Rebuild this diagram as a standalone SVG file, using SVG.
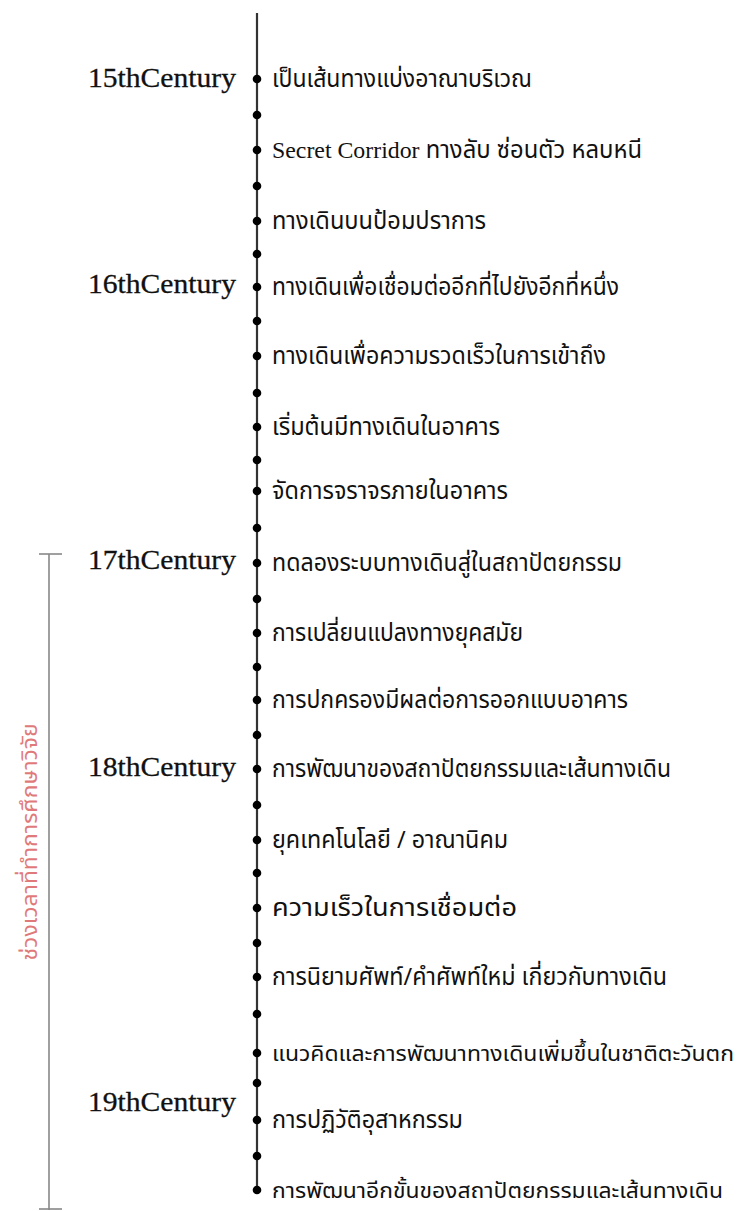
<svg xmlns="http://www.w3.org/2000/svg" width="739" height="1211" viewBox="0 0 739 1211">
<style>
.cent{font-family:"Liberation Serif","Times New Roman",serif;font-size:28px;fill:#111;stroke:#111;stroke-width:0.3;text-anchor:end}
.item{font-family:"Noto Sans Thai","Noto Sans Thai Looped","Loma","Garuda","Tlwg Typo","Noto Sans",sans-serif;font-size:24px;fill:#111}
.sm{font-size:22px}
.lat{font-family:"Liberation Serif","Times New Roman",serif}
.dot{fill:#000}
.axis{stroke:#333;stroke-width:2.2;fill:none}
.brk{stroke:#888;stroke-width:1.6;fill:none}
.red{font-family:"Noto Sans Thai","Loma","Garuda","Noto Sans",sans-serif;font-size:22px;fill:#e07a7a;text-anchor:middle}
</style>
<rect width="739" height="1211" fill="#fff"/>
<g id="connectors">
<line class="axis" x1="257" y1="13" x2="257" y2="1190"/>
<g id="bracket">
<line class="brk" x1="49" y1="554" x2="49" y2="1210"/>
<line class="brk" x1="39" y1="554" x2="62" y2="554"/>
<line class="brk" x1="39" y1="1209" x2="62" y2="1209"/>
</g>
</g>
<g id="dots">
<circle class="dot" cx="257" cy="79" r="4.3"/>
<circle class="dot" cx="257" cy="115" r="4.3"/>
<circle class="dot" cx="257" cy="150" r="4.3"/>
<circle class="dot" cx="257" cy="186" r="4.3"/>
<circle class="dot" cx="257" cy="221" r="4.3"/>
<circle class="dot" cx="257" cy="254" r="4.3"/>
<circle class="dot" cx="257" cy="287" r="4.3"/>
<circle class="dot" cx="257" cy="321" r="4.3"/>
<circle class="dot" cx="257" cy="356" r="4.3"/>
<circle class="dot" cx="257" cy="393" r="4.3"/>
<circle class="dot" cx="257" cy="427" r="4.3"/>
<circle class="dot" cx="257" cy="460" r="4.3"/>
<circle class="dot" cx="257" cy="491" r="4.3"/>
<circle class="dot" cx="257" cy="528" r="4.3"/>
<circle class="dot" cx="257" cy="563" r="4.3"/>
<circle class="dot" cx="257" cy="599" r="4.3"/>
<circle class="dot" cx="257" cy="633" r="4.3"/>
<circle class="dot" cx="257" cy="667" r="4.3"/>
<circle class="dot" cx="257" cy="700" r="4.3"/>
<circle class="dot" cx="257" cy="735" r="4.3"/>
<circle class="dot" cx="257" cy="769" r="4.3"/>
<circle class="dot" cx="257" cy="805" r="4.3"/>
<circle class="dot" cx="257" cy="840" r="4.3"/>
<circle class="dot" cx="257" cy="873" r="4.3"/>
<circle class="dot" cx="257" cy="908" r="4.3"/>
<circle class="dot" cx="257" cy="943" r="4.3"/>
<circle class="dot" cx="257" cy="977" r="4.3"/>
<circle class="dot" cx="257" cy="1014" r="4.3"/>
<circle class="dot" cx="257" cy="1053" r="4.3"/>
<circle class="dot" cx="257" cy="1083" r="4.3"/>
<circle class="dot" cx="257" cy="1120" r="4.3"/>
<circle class="dot" cx="257" cy="1156" r="4.3"/>
<circle class="dot" cx="257" cy="1190" r="4.3"/>
</g>
<g id="centuries">
<text id="c15" class="cent" x="236" y="87" textLength="148" lengthAdjust="spacingAndGlyphs">15thCentury</text>
<text id="c16" class="cent" x="236" y="293" textLength="148" lengthAdjust="spacingAndGlyphs">16thCentury</text>
<text id="c17" class="cent" x="236" y="569" textLength="148" lengthAdjust="spacingAndGlyphs">17thCentury</text>
<text id="c18" class="cent" x="236" y="776" textLength="148" lengthAdjust="spacingAndGlyphs">18thCentury</text>
<text id="c19" class="cent" x="236" y="1111" textLength="148" lengthAdjust="spacingAndGlyphs">19thCentury</text>
</g>
<g id="items">
<text id="i1" class="item" x="272" y="87" textLength="260" lengthAdjust="spacingAndGlyphs">เป็นเส้นทางแบ่งอาณาบริเวณ</text>
<text id="i2" class="item" x="272" y="158" textLength="370" lengthAdjust="spacingAndGlyphs"><tspan class="lat">Secret Corridor</tspan> ทางลับ ซ่อนตัว หลบหนี</text>
<text id="i3" class="item" x="272" y="229" textLength="214" lengthAdjust="spacingAndGlyphs">ทางเดินบนป้อมปราการ</text>
<text id="i4" class="item" x="272" y="295" textLength="347" lengthAdjust="spacingAndGlyphs">ทางเดินเพื่อเชื่อมต่ออีกที่ไปยังอีกที่หนึ่ง</text>
<text id="i5" class="item" x="272" y="364" textLength="334" lengthAdjust="spacingAndGlyphs">ทางเดินเพื่อความรวดเร็วในการเข้าถึง</text>
<text id="i6" class="item" x="272" y="435" textLength="228" lengthAdjust="spacingAndGlyphs">เริ่มต้นมีทางเดินในอาคาร</text>
<text id="i7" class="item" x="272" y="499" textLength="236" lengthAdjust="spacingAndGlyphs">จัดการจราจรภายในอาคาร</text>
<text id="i8" class="item" x="272" y="571" textLength="350" lengthAdjust="spacingAndGlyphs">ทดลองระบบทางเดินสู่ในสถาปัตยกรรม</text>
<text id="i9" class="item" x="272" y="641" textLength="251" lengthAdjust="spacingAndGlyphs">การเปลี่ยนแปลงทางยุคสมัย</text>
<text id="i10" class="item" x="272" y="708" textLength="356" lengthAdjust="spacingAndGlyphs">การปกครองมีผลต่อการออกแบบอาคาร</text>
<text id="i11" class="item" x="272" y="777" textLength="399" lengthAdjust="spacingAndGlyphs">การพัฒนาของสถาปัตยกรรมและเส้นทางเดิน</text>
<text id="i12" class="item" x="272" y="848" textLength="236" lengthAdjust="spacingAndGlyphs">ยุคเทคโนโลยี / อาณานิคม</text>
<text id="i13" class="item" x="272" y="916" textLength="245" lengthAdjust="spacingAndGlyphs">ความเร็วในการเชื่อมต่อ</text>
<text id="i14" class="item" x="272" y="985" textLength="395" lengthAdjust="spacingAndGlyphs">การนิยามศัพท์/คำศัพท์ใหม่ เกี่ยวกับทางเดิน</text>
<text id="i15" class="item sm" x="272" y="1061" textLength="462" lengthAdjust="spacingAndGlyphs">แนวคิดและการพัฒนาทางเดินเพิ่มขึ้นในชาติตะวันตก</text>
<text id="i16" class="item" x="272" y="1128" textLength="191" lengthAdjust="spacingAndGlyphs">การปฏิวัติอุสาหกรรม</text>
<text id="i17" class="item sm" x="272" y="1198" textLength="451" lengthAdjust="spacingAndGlyphs">การพัฒนาอีกขั้นของสถาปัตยกรรมและเส้นทางเดิน</text>
</g>
<g id="period-label">
<text class="red" x="0" y="0" transform="translate(37 842) rotate(-90)" textLength="237" lengthAdjust="spacingAndGlyphs">ช่วงเวลาที่ทำการศึกษาวิจัย</text>
</g>
</svg>
